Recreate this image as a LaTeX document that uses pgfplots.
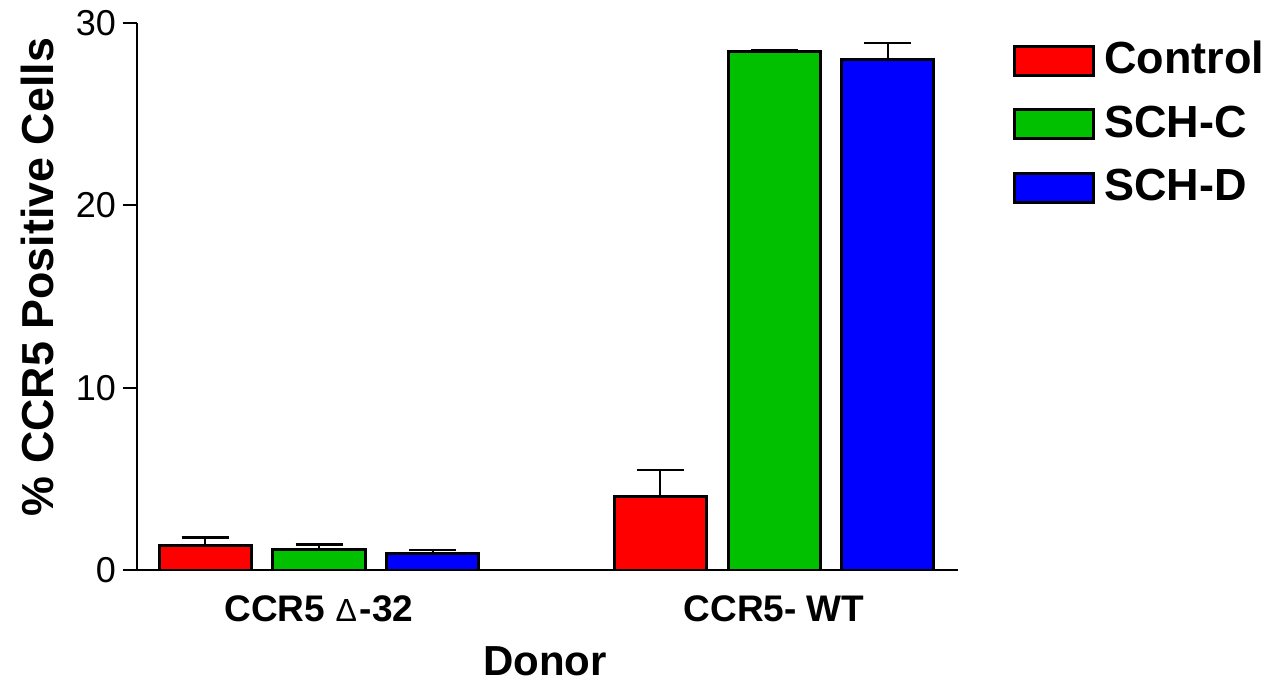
\documentclass[border=0pt]{standalone}
\usepackage{fontspec}
\setmainfont{Liberation Sans}
\usepackage{pgfplots}
\pgfplotsset{compat=1.18}
\definecolor{cred}{RGB}{255,0,0}
\definecolor{cgreen}{RGB}{0,192,0}
\definecolor{cblue}{RGB}{0,0,255}
\pgfplotsset{
 mybar/.style={ybar, bar shift=0pt, bar width=46pt, draw=black, line width=1.5pt, fill=#1,
   legend image code/.code={\draw[fill=#1, draw=black, line width=1.5pt] (0pt,-6.75pt) rectangle (39.5pt,7.75pt);},
   error bars/.cd, y dir=plus, y explicit,
   error bar style={line width=1.3pt, black, solid},
   error mark options={rotate=90, mark size=11.75pt, line width=1.3pt, black}},
}
\begin{document}
\begin{tikzpicture}
\useasboundingbox (-68.5pt,-56pt) rectangle (568.5pt,285pt);
\begin{axis}[
  at={(0,0)}, anchor=south west,
  scale only axis, width=410.5pt, height=273.5pt,
  xmin=-0.4, xmax=1.4044, ymin=0, ymax=30,
  axis x line=bottom, axis y line=left,
  axis line style={-, line width=1.1pt},
  ytick={0,10,20,30},
  xtick={0,1},
  xticklabels={CCR5 {\fontseries{m}\fontsize{16}{16}\selectfont Δ}\kern1.5pt-32, CCR5- WT},
  xtick style={draw=none},
  ytick style={line width=1.1pt, black},
  major tick length=7pt, tick align=outside,
  /pgf/number format/assume math mode=true,
  yticklabel style={font=\fontsize{18}{20}\selectfont},
  xticklabel style={font=\bfseries\fontsize{18.5}{20}\selectfont, anchor=base, yshift=-18.5pt},
  ylabel={\% CCR5 Positive Cells},
  ylabel style={font=\bfseries\fontsize{22.4}{24}\selectfont, at={(axis description cs:-0.1218,0.5356)}, anchor=center},
  xlabel={Donor},
  xlabel style={font=\bfseries\fontsize{21}{24}\selectfont, inner sep=0pt, at={(axis description cs:0.497,-0.192)}, anchor=base},
  legend cell align=left,
  legend style={at={(0,1)}, anchor=north west, xshift=438pt, yshift=-9.05pt, draw=none, fill=none, inner sep=0pt, row sep=11.75pt, column sep=4.5pt, nodes={inner sep=0pt, text height=16pt, text depth=4pt, font=\bfseries\fontsize{22.5}{24}\selectfont}},
]
\addplot[mybar=cred] coordinates {(-0.2505,1.33) +- (0,0.44) (0.7495,4.02) +- (0,1.47)};
\addlegendentry{Control}
\addplot[mybar=cgreen] coordinates {(0,1.10) +- (0,0.30) (1,28.42) +- (0,0.09)};
\addlegendentry{SCH-C}
\addplot[mybar=cblue] coordinates {(0.2505,0.88) +- (0,0.22) (1.2505,27.98) +- (0,0.92)};
\addlegendentry{SCH-D}
\end{axis}
\end{tikzpicture}
\end{document}
